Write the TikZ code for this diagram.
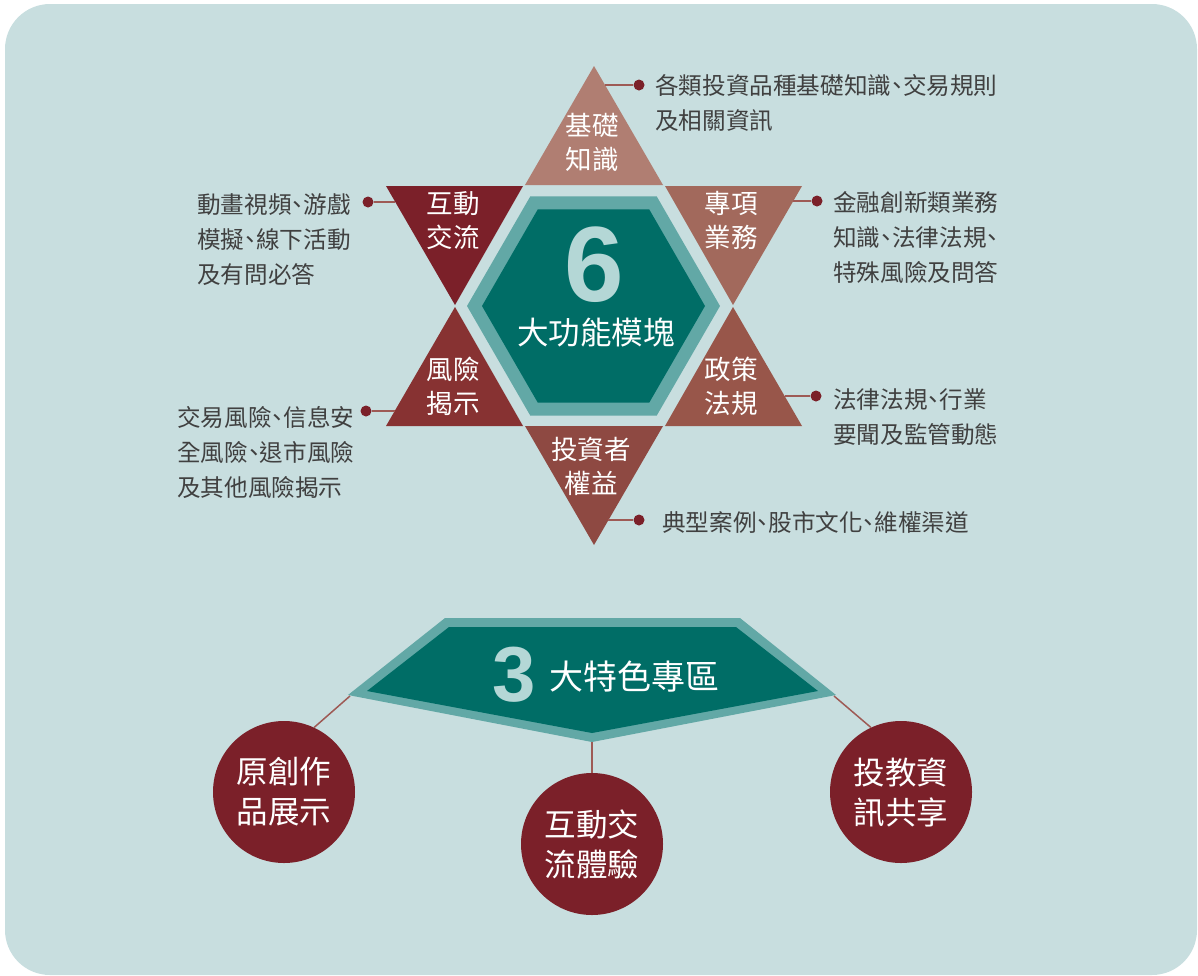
\documentclass[tikz,border=0pt]{standalone}
\usepackage{fontspec}
\usepackage{tikz}
\newfontfamily\cjk{Noto Sans CJK TC}
\newfontfamily\cjkhalt{Noto Sans CJK TC}[RawFeature=+halt]
\newfontfamily\numfont{Liberation Sans}
\definecolor{bgteal}{HTML}{C8DEDF}
\definecolor{tealdark}{HTML}{006D66}
\definecolor{teallight}{HTML}{62A8A6}
\definecolor{tealpale}{HTML}{B4D7D6}
\definecolor{maroon}{HTML}{7B2029}
\definecolor{roseT}{HTML}{B07E72}
\definecolor{roseTR}{HTML}{A2695C}
\definecolor{roseBL}{HTML}{873232}
\definecolor{roseBR}{HTML}{98564A}
\definecolor{roseB}{HTML}{8E4942}
\definecolor{leadc}{HTML}{9E5A55}
\definecolor{txtgray}{HTML}{404040}

\begin{document}
\begin{tikzpicture}[x=1pt,y=-1pt,
    tri/.style={text=white,font=\cjk\fontsize{26.5}{34}\selectfont,align=center,inner sep=0pt},
    desc/.style={text=txtgray,font=\cjkhalt\fontsize{23.6}{35}\selectfont,align=left,inner sep=0pt},
    pin/.style={circle,fill=maroon,inner sep=0pt,minimum size=11pt},
    lead/.style={draw=leadc,line width=1.5pt},
    zone/.style={circle,fill=maroon,minimum size=142pt,inner sep=0pt,text=white,font=\cjk\fontsize{31.5}{40}\selectfont,align=center}]
      \useasboundingbox (0,0) rectangle (1198,975);
      \fill[bgteal,rounded corners=45pt] (5,4) rectangle (1197,975);

      \fill[roseT] (594,66) -- (663,185) -- (525,185) -- cycle;
      \fill[maroon] (386,186) -- (523,186) -- (455,305) -- cycle;
      \fill[roseTR] (665,186) -- (802,186) -- (733,305) -- cycle;
      \fill[roseBL] (455,307) -- (523,426) -- (386,426) -- cycle;
      \fill[roseBR] (733,307) -- (802,426) -- (665,426) -- cycle;
      \fill[roseB] (525,426) -- (663,426) -- (594,545) -- cycle;

      \fill[teallight] (720,306) -- (656.75,196.45) -- (530.25,196.45) -- (467,306) -- (530.25,415.55) -- (656.75,415.55) -- cycle;
      \fill[tealdark] (705,306) -- (649.25,209.4) -- (537.75,209.4) -- (482,306) -- (537.75,402.6) -- (649.25,402.6) -- cycle;

      \node[text=tealpale,font=\numfont\bfseries\fontsize{107}{107}\selectfont,inner sep=0pt] (six) at (594,265) {6};
      \node[text=white,font=\cjk\fontsize{31.5}{32}\selectfont,inner sep=0pt] (mods) at (596,333) {大功能模塊};

      \node[tri] (basic) at (592,142.5) {基礎\\知識};
      \node[tri] (inter) at (453,220.5) {互動\\交流};
      \node[tri] (special) at (731,220.5) {專項\\業務};
      \node[tri] (risk) at (453,386.5) {風險\\揭示};
      \node[tri] (policy) at (731,386.5) {政策\\法規};
      \node[tri] (rights) at (591,466.5) {投資者\\權益};

      \node[pin] (d1) at (639,85) {};
      \node[pin] (d2) at (368,202) {};
      \node[pin] (d3) at (817,201) {};
      \node[pin] (d4) at (366,411) {};
      \node[pin] (d5) at (816,396) {};
      \node[pin] (d6) at (639,520) {};
      \coordinate (e1) at (605,85);
      \coordinate (e2) at (395,202);
      \coordinate (e3) at (793,201);
      \coordinate (e4) at (395,411);
      \coordinate (e5) at (785,396);
      \coordinate (e6) at (608,520);
      \draw[lead] (e1) -- (d1);
      \draw[lead] (e2) -- (d2);
      \draw[lead] (e3) -- (d3);
      \draw[lead] (e4) -- (d4);
      \draw[lead] (e5) -- (d5);
      \draw[lead] (e6) -- (d6);

      \node[desc,anchor=west] (t1) at (655,103.5) {各類投資品種基礎知識、交易規則\\及相關資訊};
      \node[desc,anchor=west] (t2) at (197,240) {動畫視頻、游戲\\模擬、線下活動\\及有問必答};
      \node[desc,anchor=west] (t3) at (833,238) {金融創新類業務\\知識、法律法規、\\特殊風險及問答};
      \node[desc,anchor=west] (t4) at (177,452) {交易風險、信息安\\全風險、退市風險\\及其他風險揭示};
      \node[desc,anchor=west] (t5) at (833,417.5) {法律法規、行業\\要聞及監管動態};
      \node[desc,anchor=west] (t6) at (662,522) {典型案例、股市文化、維權渠道};

      \node[zone] (cL) at (284,792) {原創作\\品展示};
      \node[zone] (cM) at (592,844) {互動交\\流體驗};
      \node[zone] (cR) at (901,792) {投教資\\訊共享};

      \coordinate (pL) at (350,696);
      \coordinate (pR) at (834,696);
      \coordinate (pB) at (592,740);
      \draw[lead] (pL) -- (cL.65);
      \draw[lead] (pR) -- (cR.115);
      \draw[lead] (pB) -- (cM.north);

      \fill[teallight] (445,618) -- (740,618) -- (836,695) -- (592,742) -- (348,695) -- cycle;
      \fill[tealdark] (449,627) -- (736,627) -- (818,691) -- (592,733) -- (367,691) -- cycle;
      \node[text=tealpale,font=\numfont\bfseries\fontsize{78}{78}\selectfont,inner sep=0pt] (three) at (514,675) {3};
      \node[text=white,font=\cjk\fontsize{34}{36}\selectfont,inner sep=0pt] (zones) at (634,677) {大特色專區};
    \end{tikzpicture}
\end{document}
